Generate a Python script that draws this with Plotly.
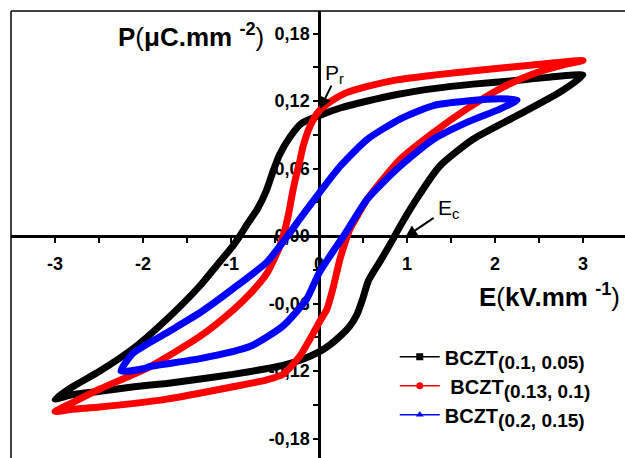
import plotly.graph_objects as go

# ---------------- data ----------------
black_E = [3.0, 2.6, 2.2, 1.75, 1.3, 0.9, 0.55, 0.25, 0.0, -0.2, -0.33, -0.45, -0.52, -0.6, -0.7, -0.82, -0.9,
           -0.98, -1.15, -1.35, -1.73, -2.11, -2.49, -2.8, -3.0,
           -2.8, -2.49, -2.1, -1.73, -1.35, -0.98, -0.6, -0.41, -0.2, 0.0, 0.12, 0.24, 0.35, 0.43, 0.5, 0.56,
           0.69, 0.84, 0.88, 1.11, 1.37, 1.75, 2.25, 2.74, 3.0]
black_P = [0.143, 0.141, 0.138, 0.135, 0.131, 0.126, 0.12, 0.114, 0.107, 0.1, 0.088, 0.072, 0.058, 0.04, 0.024, 0.01, 0.0,
           -0.009, -0.025, -0.044, -0.074, -0.1, -0.12, -0.134, -0.145,
           -0.141, -0.138, -0.134, -0.131, -0.127, -0.123, -0.118, -0.115, -0.11, -0.103, -0.097, -0.089, -0.08, -0.07, -0.055, -0.04,
           -0.023, -0.003, 0.003, 0.033, 0.062, 0.086, 0.107, 0.128, 0.143]

red_E = [3.0, 2.8, 2.43, 1.9, 1.3, 0.9, 0.55, 0.3, 0.16, 0.0, -0.1, -0.18, -0.22, -0.27, -0.3, -0.35, -0.4, -0.45,
         -0.59, -0.78, -0.98, -1.35, -1.92, -2.49, -2.8, -3.0,
         -2.8, -2.49, -1.73, -0.98, -0.6, -0.41, -0.22, -0.07, 0.0, 0.09, 0.16, 0.24, 0.3, 0.35, 0.45, 0.55,
         0.92, 1.3, 1.68, 2.06, 2.43, 2.82, 3.0]
red_P = [0.156, 0.155, 0.152, 0.148, 0.143, 0.139, 0.133, 0.127, 0.121, 0.111, 0.098, 0.08, 0.066, 0.05, 0.039, 0.018, 0.002, -0.01,
         -0.033, -0.051, -0.066, -0.089, -0.116, -0.136, -0.148, -0.156,
         -0.154, -0.152, -0.145, -0.134, -0.128, -0.123, -0.107, -0.087, -0.077, -0.065, -0.046, -0.02, -0.005, 0.006, 0.02, 0.033,
         0.068, 0.092, 0.113, 0.131, 0.144, 0.153, 0.156]

blue_E = [2.25, 2.06, 1.68, 1.3, 0.92, 0.55, 0.24, 0.0, -0.22, -0.33, -0.59, -0.98, -1.35, -1.73, -2.11, -2.25,
          -2.0, -1.92, -1.35, -0.78, -0.41, -0.14, 0.0, 0.2, 0.28, 0.55, 0.92, 1.3, 1.68, 2.06, 2.25]
blue_P = [0.121, 0.122, 0.12, 0.116, 0.104, 0.086, 0.062, 0.038, 0.015, 0.003, -0.023, -0.047, -0.068, -0.086, -0.104, -0.12,
          -0.118, -0.116, -0.109, -0.098, -0.08, -0.056, -0.033, -0.009, 0.0, 0.033, 0.062, 0.086, 0.101, 0.113, 0.121]

series_names = ["<b>BCZT<sub><span style='font-size:19px'>(0.1, 0.05)</span></sub></b>",
                "<b>&nbsp;BCZT<sub><span style='font-size:19px'>(0.13, 0.1)</span></sub></b>",
                "<b>BCZT<sub><span style='font-size:19px'>(0.2, 0.15)</span></sub></b>"]
series_colors = ["#000000", "#ff0000", "#0000ff"]
series_symbols = ["square", "circle", "triangle-up"]

x_tickvals = [-3, -2.5, -2, -1.5, -1, -0.5, 0, 0.5, 1, 1.5, 2, 2.5, 3]
x_ticktext = ["-3", "", "-2", "", "-1", "", "0", "", "1", "", "2", "", "3"]
y_tickvals = [-0.18, -0.15, -0.12, -0.09, -0.06, -0.03, 0.0, 0.03, 0.06, 0.09, 0.12, 0.15, 0.18]
y_ticktext = ["-0,18", "", "-0,12", "", "-0,06", "", "0,00", "", "0,06", "", "0,12", "", "0,18"]

x_range = [-3.5, 3.477]
y_range = [-0.1973, 0.2]

fig = go.Figure()
for E, P, c in [(black_E, black_P, series_colors[0]), (red_E, red_P, series_colors[1]), (blue_E, blue_P, series_colors[2])]:
    fig.add_trace(go.Scatter(x=E, y=P, mode="lines", line=dict(color=c, width=7, shape="spline", smoothing=0.6),
                             showlegend=False, hoverinfo="skip"))
for name, c, s in zip(series_names, series_colors, series_symbols):
    fig.add_trace(go.Scatter(x=[None], y=[None], mode="lines+markers", name=name,
                             line=dict(color=c, width=1.5), marker=dict(symbol=s, size=7, color=c)))

xpos = (0 - y_range[0]) / (y_range[1] - y_range[0])
ypos = (0 - x_range[0]) / (x_range[1] - x_range[0])

fig.update_layout(
    width=625, height=458,
    margin=dict(l=11, r=0, t=11, b=0, autoexpand=False),
    paper_bgcolor="white", plot_bgcolor="white",
    font=dict(family="Arial, Liberation Sans", color="black"),
    xaxis=dict(range=x_range, anchor="free", position=xpos, showgrid=False, zeroline=False,
               showline=True, linecolor="black", linewidth=2.5, ticks="outside", ticklen=5, tickwidth=2,
               tickcolor="black", tickvals=x_tickvals, ticktext=x_ticktext, layer="below traces",
               tickfont=dict(size=18, weight="bold"), ticklabelstandoff=6, automargin=False),
    yaxis=dict(range=y_range, anchor="free", position=ypos, showgrid=False, zeroline=False,
               showline=True, linecolor="black", linewidth=2.5, ticks="outside", ticklen=5, tickwidth=2,
               tickcolor="black", tickvals=y_tickvals, ticktext=y_ticktext, layer="below traces",
               tickfont=dict(size=18, weight="bold"), automargin=False),
    legend=dict(x=0.625, y=0.27, xanchor="left", yanchor="top", bgcolor="rgba(0,0,0,0)",
                font=dict(size=20, color="black"), tracegroupgap=0, itemwidth=40),
    shapes=[
        dict(type="line", xref="paper", yref="paper", x0=0, x1=0, y0=0, y1=1, line=dict(color="black", width=1.5)),
        dict(type="line", xref="paper", yref="paper", x0=0, x1=1, y0=1, y1=1, line=dict(color="black", width=1.5)),
    ],
    annotations=[
        dict(x=-0.6, y=0.178, xref="x", yref="y", xanchor="right", yanchor="middle", showarrow=False,
             text="<b>P</b>(<b>μC.mm</b> <sup><b>-2</b></sup>)", font=dict(size=26)),
        dict(x=1.8, y=-0.053, xref="x", yref="y", xanchor="left", yanchor="middle", showarrow=False,
             text="<b>E</b>(<b>kV.mm</b> <sup><b>-1</b></sup>)", font=dict(size=26)),
        dict(x=0.04, y=0.144, xref="x", yref="y", xanchor="left", yanchor="middle", showarrow=False,
             text="P<sub>r</sub>", font=dict(size=21)),
        dict(x=1.33, y=0.024, xref="x", yref="y", xanchor="left", yanchor="middle", showarrow=False,
             text="E<sub>c</sub>", font=dict(size=21)),
        dict(x=0.01, y=0.113, ax=0.15, ay=0.135, xref="x", yref="y", axref="x", ayref="y", text="",
             showarrow=True, arrowhead=2, arrowsize=1.2, arrowwidth=2, arrowcolor="black"),
        dict(x=0.98, y=-0.001, ax=1.32, ay=0.017, xref="x", yref="y", axref="x", ayref="y", text="",
             showarrow=True, arrowhead=2, arrowsize=1.2, arrowwidth=2, arrowcolor="black"),
    ],
)

fig.write_html("out.html")
